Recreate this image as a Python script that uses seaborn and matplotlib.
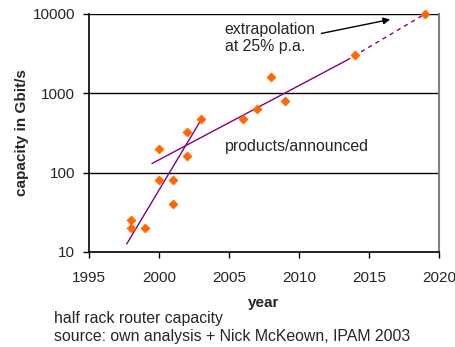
import matplotlib
matplotlib.use("Agg")
import matplotlib.pyplot as plt
import seaborn as sns
import pandas as pd

# data
years = [1998, 1998, 1999, 2000, 2000, 2001, 2001, 2002, 2002, 2003,
         2006, 2007, 2008, 2009, 2014, 2019]
capacity = [25, 20, 20, 80, 200, 80, 40, 320, 160, 480,
            480, 640, 1600, 800, 3000, 10000]

early_trend_x = [1997.7, 2002.9]
early_trend_y = [12.6, 430]
main_trend_x = [1999.5, 2013.4]
main_trend_y = [130, 2600]
extrap_x = [2013.4, 2019.4]
extrap_y = [2600, 11000]

x_ticks = [1995, 2000, 2005, 2010, 2015, 2020]
y_ticks = [10, 100, 1000, 10000]

sns.set_style("white")
plt.rcParams["font.family"] = ["Liberation Sans", "DejaVu Sans"]

fig = plt.figure(figsize=(4.56, 3.47), dpi=100)
ax = fig.add_axes([0.195, 0.274, 0.768, 0.686])

df = pd.DataFrame({"year": years, "cap": capacity})
purple = "#800080"
sns.lineplot(x=early_trend_x, y=early_trend_y, ax=ax, color=purple, lw=1)
sns.lineplot(x=main_trend_x, y=main_trend_y, ax=ax, color=purple, lw=1)
sns.lineplot(x=extrap_x, y=extrap_y, ax=ax, color=purple, lw=1, linestyle=(0, (3, 3)))
sns.scatterplot(data=df, x="year", y="cap", ax=ax, marker="D", s=22,
                color="#FF6600", edgecolor="#FF6600", zorder=5, clip_on=False)

ax.set_yscale("log")
ax.set_xlim(1995, 2020)
ax.set_ylim(10, 10000)
ax.set_xticks(x_ticks)
ax.set_xticklabels([str(t) for t in x_ticks])
ax.set_yticks(y_ticks)
ax.set_yticklabels([str(t) for t in y_ticks])
ax.yaxis.set_minor_locator(matplotlib.ticker.NullLocator())

for y in [100, 1000, 10000]:
    ax.axhline(y, color="black", lw=1, zorder=1)

for side in ["left", "bottom"]:
    ax.spines[side].set_color("black")
    ax.spines[side].set_linewidth(1.2)
ax.spines["right"].set_color("#808080")
ax.spines["right"].set_linewidth(1.5)
ax.spines["top"].set_visible(False)

ax.tick_params(axis="x", which="major", direction="out", length=4, width=1,
               color="black", labelsize=11, pad=10, bottom=True)
ax.tick_params(axis="y", which="major", direction="out", length=4, width=1,
               color="black", labelsize=11, pad=6, left=True)

ax.set_xlabel("year", fontsize=11, fontweight="bold")
ax.set_ylabel("capacity in Gbit/s", fontsize=11, fontweight="bold")
ax.yaxis.set_label_coords(-0.172, 0.5)
ax.xaxis.set_label_coords(0.5, -0.185)

ax.text(2004.7, 5000, "extrapolation\nat 25% p.a.", fontsize=11.4, va="center", ha="left",
        linespacing=1.2)
ax.text(2004.7, 213, "products/announced", fontsize=11.4, va="center", ha="left")
ax.annotate("", xy=(2016.7, 8650), xytext=(2011.4, 5580),
            arrowprops=dict(arrowstyle="-|>", color="black", lw=1, mutation_scale=10))

fig.text(54 / 456, 1 - 318 / 347, "half rack router capacity", fontsize=11.4, va="center")
fig.text(54 / 456, 1 - 336 / 347, "source: own analysis + Nick McKeown, IPAM 2003",
         fontsize=11.4, va="center")

fig.savefig("out.png", dpi=100)
